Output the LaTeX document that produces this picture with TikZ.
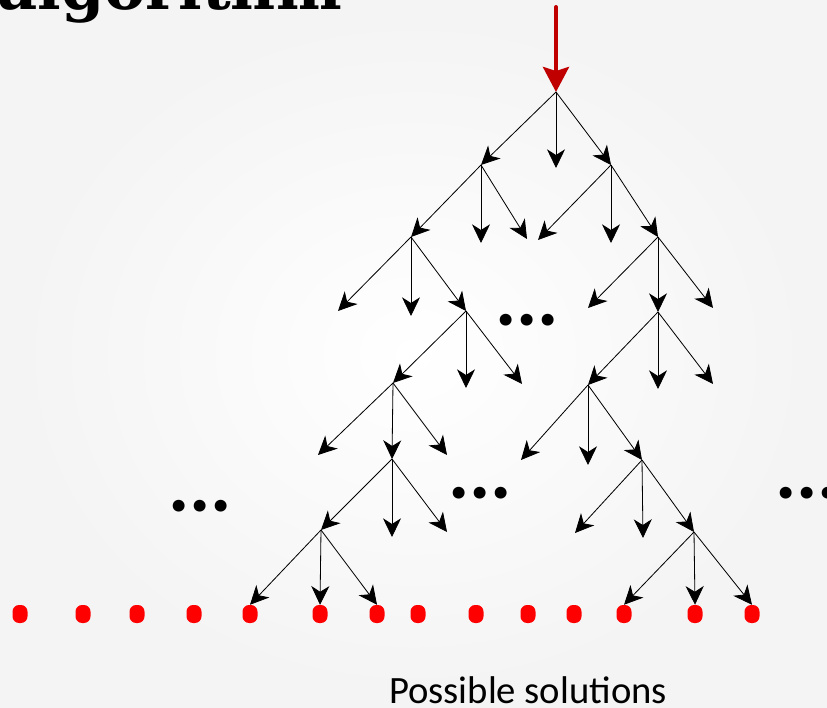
\documentclass[tikz,border=0pt]{standalone}
\usepackage{fontspec}
\setmainfont{Carlito}
\newfontfamily\titlefont{DejaVu Serif}
\usetikzlibrary{arrows.meta}
\definecolor{entryred}{HTML}{C00000}
\tikzset{
    branch/.style = {
        line width=0.7pt,
        -{Stealth[length=5.6mm, width=5.4mm, inset=1.7mm]},
        },
    entry/.style = {
        draw=entryred,
        line width=3.4pt,
        line cap=round,
        -{Stealth[length=7.5mm, width=7.8mm, inset=1.2mm]},
        },
    solution/.style = {
        fill = red,
        rounded corners=2mm,
        minimum width=4.5mm,
        minimum height=5.4mm,
        inner sep=0pt,
        },
    more/.style = {
        font=\bfseries\fontsize{68}{68}\selectfont,
        inner sep=0pt,
        },
    title/.style = {
        font=\titlefont\bfseries\fontsize{53}{53}\selectfont,
        inner sep=0pt,
        },
}

\begin{document}
\begin{tikzpicture}[x=0.3mm, y=-0.3mm]
    \useasboundingbox (0,0) rectangle (827,708);
    \clip (0,0) rectangle (827,708);
    \shade[inner color=white, outer color=gray!9] (0,0) rectangle (827,708);

    % title, cut by the top edge
    \node [title, anchor=base east] (title) at (342,10) {algorithm};

    % the tree
    \coordinate (top) at (556,7);
    \coordinate (root) at (556,92);
    \coordinate (a) at (481,165);
    \coordinate (c) at (611,165);
    \coordinate (d) at (411,237);
    \coordinate (e) at (658,237);
    \coordinate (f) at (466,311);
    \coordinate (g) at (658,312);
    \coordinate (h) at (393,383);
    \coordinate (i) at (588,385);
    \coordinate (j) at (392,459);
    \coordinate (k) at (642,460);
    \coordinate (l) at (321,530);
    \coordinate (m) at (694,532);

    \draw[entry] (top) -- (root);
    \foreach \from/\to in {root/a, root/c, a/d, c/e, d/f, e/g, f/h, g/i, h/j, i/k, j/l, k/m}
        \draw[branch] (\from) -- (\to);

    % dead ends
    \foreach \from/\x/\y [count=\n] in {root/556/168, a/481/243, a/527/239, c/538/240, c/611/243,
            d/338/311, d/411/316, e/588/308, e/713/308, f/466/388, f/522/384, g/658/389, g/713/384,
            h/318/455, h/447/455, i/521/460, i/588/465, j/392/537, j/447/532, k/575/533, k/643/538}
    {
        \coordinate (end\n) at (\x,\y);
        \draw[branch] (\from) -- (end\n);
    }

    % possible solutions
    \foreach \x [count=\n] in {20,83,137,194,250,320,377,418,476,528,574,624,695,752}
        \node [solution] (sol\n) at (\x,614) {};

    \foreach \from/\to in {l/5, l/6, l/7, m/12, m/13, m/14}
        \draw[branch] (\from) -- (sol\to.north);

    \node [more] (more1) at (527,320) {...};
    \node [more] (more2) at (200,506) {...};
    \node [more] (more3) at (480,493) {...};
    \node [more] (more4) at (807,493) {...};

    \node [anchor=base, font=\fontsize{33}{33}\selectfont] (label) at (528,703) {Possible solutions};
\end{tikzpicture}
\end{document}
